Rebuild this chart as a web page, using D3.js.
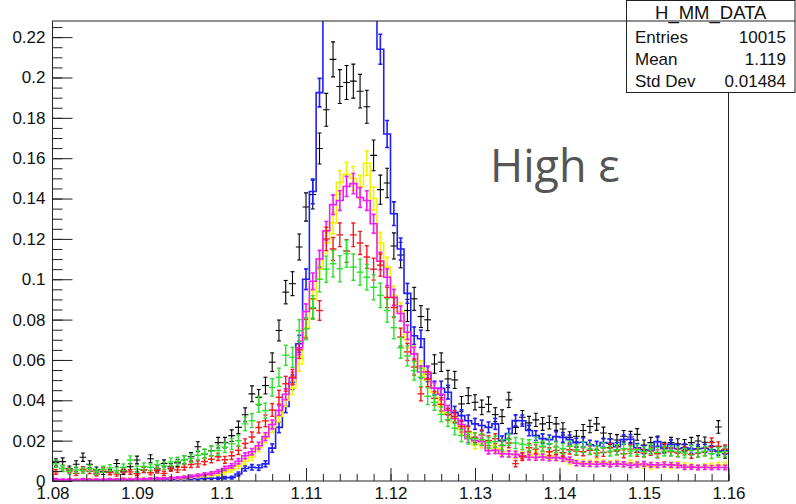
<!DOCTYPE html>
<html><head><meta charset="utf-8">
<script src="https://cdn.jsdelivr.net/npm/d3@7"></script>
<style>html,body{margin:0;padding:0;background:#fff;} svg{display:block;}</style>
</head><body>
<svg id="c" width="796" height="504"></svg>
<script>
// ---- binning / axis ranges ----
const xMin = 1.08, xMax = 1.16, binWidth = 0.0008;
const yMax = 0.228;
const xTickValues = [1.08, 1.09, 1.10, 1.11, 1.12, 1.13, 1.14, 1.15, 1.16];
const xTickLabels = ["1.08", "1.09", "1.1", "1.11", "1.12", "1.13", "1.14", "1.15", "1.16"];
const yTickValues = [0, 0.02, 0.04, 0.06, 0.08, 0.10, 0.12, 0.14, 0.16, 0.18, 0.20, 0.22];
const yTickLabels = ["0", "0.02", "0.04", "0.06", "0.08", "0.1", "0.12", "0.14", "0.16", "0.18", "0.2", "0.22"];

// ---- series (100 bins each) ----
const dataBlack = [0.0092,0.0096,0.006,0.0083,0.0118,0.0083,0.0055,0.0045,0.0045,0.0087,
0.0045,0.0071,0.0104,0.0055,0.011,0.006,0.0087,0.007,0.009,0.0106,
0.012,0.017,0.0134,0.015,0.019,0.019,0.0225,0.0266,0.0328,0.0432,
0.0415,0.0473,0.0589,0.0746,0.0936,0.0978,0.116,0.1358,0.142,0.1648,
0.184,0.209,0.1955,0.1975,0.1982,0.1932,0.1855,0.1614,0.1444,0.1477,
0.1165,0.112,0.0845,0.0903,0.0815,0.0799,0.058,0.0589,0.0506,0.0501,
0.0382,0.0423,0.039,0.0365,0.038,0.0329,0.0319,0.0402,0.0266,0.0316,
0.0288,0.0303,0.0283,0.029,0.0283,0.0258,0.0216,0.0222,0.025,0.027,
0.0283,0.0238,0.0208,0.0203,0.0222,0.0218,0.0231,0.0178,0.019,0.0196,
0.0167,0.019,0.0184,0.018,0.019,0.0198,0.0192,0.0172,0.0268,0.0135];

const histBlue = [0.0004,0.0003,0.0005,0.0004,0.0003,0.0005,0.0004,0.0006,0.0004,0.0005,
0.0006,0.0005,0.0007,0.0006,0.0008,0.0007,0.0009,0.0008,0.001,0.0011,
0.0012,0.0011,0.0013,0.0014,0.0014,0.0016,0.0017,0.0035,0.0062,0.0068,
0.0066,0.0085,0.0163,0.0266,0.037,0.049,0.068,0.1,0.1435,0.1925,
0.255,0.29,0.31,0.32,0.315,0.3,0.275,0.245,0.214,0.172,
0.1325,0.115,0.093,0.072,0.0705,0.053,0.046,0.046,0.044,0.034,
0.0324,0.0299,0.0283,0.0275,0.0266,0.0283,0.02,0.0235,0.03,0.0299,
0.025,0.0225,0.021,0.0205,0.022,0.0216,0.0205,0.019,0.0192,0.018,
0.0175,0.019,0.0187,0.017,0.0205,0.0207,0.0165,0.0155,0.0154,0.0195,
0.016,0.0182,0.016,0.0165,0.0158,0.016,0.0162,0.0155,0.0148,0.0152];

const histYellow = [0.0006,0.0005,0.0007,0.0006,0.0005,0.0008,0.0006,0.0007,0.0008,0.0007,
0.0009,0.001,0.0009,0.0011,0.001,0.0012,0.0013,0.0015,0.0014,0.0017,
0.0021,0.0024,0.0027,0.003,0.0036,0.0045,0.0055,0.0074,0.0098,0.0118,
0.0165,0.0212,0.0265,0.032,0.04,0.046,0.058,0.076,0.09,0.105,
0.118,0.128,0.148,0.152,0.15,0.1457,0.1575,0.14,0.118,0.106,
0.092,0.084,0.07,0.063,0.056,0.05,0.044,0.037,0.033,0.029,
0.0255,0.024,0.018,0.0185,0.0175,0.016,0.0145,0.0135,0.013,0.0128,
0.0125,0.0132,0.0122,0.0125,0.0118,0.0112,0.0098,0.009,0.0092,0.0088,
0.0094,0.009,0.0086,0.0088,0.0082,0.0089,0.0084,0.0076,0.0072,0.0078,
0.0081,0.0074,0.0082,0.0077,0.0073,0.0068,0.0072,0.0076,0.0078,0.0079];

const histMagenta = [0.0008,0.0006,0.0007,0.0005,0.0008,0.0006,0.0007,0.0006,0.0008,0.0007,
0.0009,0.0008,0.001,0.0009,0.0011,0.0012,0.0013,0.0015,0.0016,0.0019,
0.0023,0.0028,0.0033,0.0038,0.0047,0.0062,0.0075,0.0098,0.0125,0.0145,
0.0175,0.022,0.028,0.035,0.043,0.051,0.066,0.084,0.099,0.11,
0.124,0.137,0.139,0.146,0.1474,0.1405,0.139,0.1275,0.109,0.101,
0.091,0.083,0.0737,0.063,0.054,0.054,0.046,0.043,0.035,0.031,
0.028,0.021,0.02,0.0195,0.015,0.0152,0.0135,0.0134,0.0132,0.0125,
0.0118,0.0117,0.0119,0.0114,0.0116,0.0112,0.0105,0.0088,0.0085,0.0084,
0.0083,0.0086,0.0082,0.0085,0.0083,0.0078,0.0081,0.0084,0.008,0.0079,
0.0082,0.008,0.0078,0.0068,0.0069,0.0067,0.0068,0.0066,0.0068,0.0067];

const dataRed = [0.0045,0.0062,0.0052,0.0038,0.0058,0.0048,0.0035,0.0055,0.0042,0.0034,
0.0052,0.0045,0.0036,0.0056,0.0041,0.0052,0.0038,0.0061,0.0055,0.0068,
0.0082,0.0085,0.0097,0.0108,0.012,0.0105,0.0125,0.0152,0.0186,0.0218,
0.0265,0.0298,0.0352,0.0415,0.0482,0.0515,0.065,0.0755,0.0855,0.0845,
0.12,0.115,0.122,0.114,0.122,0.118,0.111,0.105,0.107,0.091,
0.086,0.0713,0.064,0.0565,0.0432,0.0505,0.041,0.038,0.033,0.032,
0.027,0.0245,0.0215,0.0228,0.02,0.021,0.0175,0.0188,0.0086,0.012,
0.0165,0.0158,0.017,0.0145,0.0152,0.014,0.0155,0.0148,0.0145,0.0152,
0.0138,0.0142,0.0165,0.015,0.0135,0.0158,0.0142,0.0138,0.0148,0.0135,
0.0165,0.0145,0.014,0.015,0.0132,0.0138,0.0145,0.019,0.0172,0.0158];

const dataGreen = [0.0085,0.0062,0.0048,0.0055,0.0052,0.0062,0.0045,0.0058,0.0065,0.0052,
0.0068,0.0104,0.0058,0.0072,0.0068,0.0082,0.0075,0.0095,0.0098,0.0105,
0.0112,0.0128,0.0135,0.0148,0.0152,0.0167,0.0184,0.02,0.0283,0.0299,
0.038,0.0349,0.0464,0.0514,0.0623,0.0613,0.0745,0.0755,0.086,0.1,
0.105,0.1077,0.1052,0.1127,0.106,0.1035,0.101,0.096,0.092,0.0845,
0.076,0.066,0.062,0.0547,0.0514,0.042,0.039,0.033,0.0305,0.0262,
0.0225,0.0212,0.021,0.0205,0.019,0.0195,0.0178,0.0205,0.0188,0.0182,
0.0178,0.019,0.0172,0.0185,0.0168,0.016,0.0172,0.0155,0.0168,0.0158,
0.0152,0.0165,0.0148,0.0155,0.016,0.0148,0.0155,0.0145,0.0158,0.0142,
0.0148,0.015,0.0145,0.0138,0.0152,0.0142,0.0148,0.0135,0.0142,0.0145];

const statsTitle = "H_MM_DATA";
const statsLabels = ["Entries", "Mean", "Std Dev"];
const statsValues = ["10015", "1.119", "0.01484"];
const annotation = "High \u03b5";

// ---- drawing ----
const svg = d3.select("#c");
const frame = {l: 52.5, r: 728.5, t: 21, b: 481};
const x = d3.scaleLinear().domain([xMin, xMax]).range([frame.l, frame.r]);
const y = d3.scaleLinear().domain([0, yMax]).range([frame.b, frame.t]);
const FONT = "'Liberation Sans', Arial, Helvetica, sans-serif";

svg.append("rect").attr("width", 796).attr("height", 504).attr("fill", "#fff");

svg.append("defs").append("clipPath").attr("id", "fr")
  .append("rect").attr("x", frame.l).attr("y", frame.t)
  .attr("width", frame.r - frame.l).attr("height", frame.b - frame.t);

const plot = svg.append("g").attr("clip-path", "url(#fr)");

const series = [
  {vals: dataBlack,   color: "#000000", step: false, err: 3.6e-4, w: 1.1},
  {vals: histBlue,    color: "#1f1ff5", step: true,  err: 2.6e-4, w: 1.6},
  {vals: histYellow,  color: "#f2f200", step: true,  err: 2.3e-4, w: 1.6},
  {vals: histMagenta, color: "#f01cf0", step: true,  err: 1.7e-4, w: 1.6},
  {vals: dataRed,     color: "#f01c1c", step: false, err: 2.8e-4, w: 1.4},
  {vals: dataGreen,   color: "#2ee02e", step: false, err: 4.0e-4, w: 1.4}
];

const lo = i => xMin + i * binWidth;
series.forEach(s => {
  const g = plot.append("g");
  if (s.step) {
    const pts = s.vals.map((v, i) => [x(lo(i)), y(v)]);
    pts.push([x(lo(s.vals.length)), y(s.vals[s.vals.length - 1])]);
    g.append("path").attr("d", d3.line().curve(d3.curveStepAfter)(pts))
      .attr("fill", "none").attr("stroke", s.color).attr("stroke-width", s.w);
  }
  s.vals.forEach((v, i) => {
    const e = Math.sqrt(v * s.err);
    const cx = x(lo(i) + binWidth / 2);
    const y1 = y(v - e), y2 = y(v + e);
    const gg = g.append("g").attr("stroke", s.color).attr("stroke-width", s.w).attr("fill", "none");
    gg.append("line").attr("x1", cx).attr("x2", cx).attr("y1", y1).attr("y2", y2);
    gg.append("line").attr("x1", cx - 2).attr("x2", cx + 2).attr("y1", y1).attr("y2", y1);
    gg.append("line").attr("x1", cx - 2).attr("x2", cx + 2).attr("y1", y2).attr("y2", y2);
    if (!s.step) {
      gg.append("line").attr("x1", x(lo(i))).attr("x2", x(lo(i + 1))).attr("y1", y(v)).attr("y2", y(v));
    }
  });
});

// frame
svg.append("rect").attr("x", frame.l).attr("y", frame.t)
  .attr("width", frame.r - frame.l).attr("height", frame.b - frame.t)
  .attr("fill", "none").attr("stroke", "#222").attr("stroke-width", 1);

// axes
const xMinor = d3.range(0, 41).map(i => xMin + i * 0.002);
const yMinor = d3.range(0, 46).map(i => i * 0.005);

const xAxisMinor = d3.axisBottom(x).tickValues(xMinor).tickSize(-7).tickFormat("");
const xAxisMajor = d3.axisBottom(x).tickValues(xTickValues).tickSize(-13).tickPadding(6)
  .tickFormat((d, i) => xTickLabels[i]);
const yAxisMinor = d3.axisLeft(y).tickValues(yMinor).tickSize(-10).tickFormat("");
const yAxisMajor = d3.axisLeft(y).tickValues(yTickValues).tickSize(-20).tickPadding(7)
  .tickFormat((d, i) => yTickLabels[i]);

function styleAxis(g) {
  g.select(".domain").remove();
  g.selectAll("line").attr("stroke", "#222");
  g.selectAll("text").attr("font-family", FONT).attr("font-size", 17).attr("fill", "#111");
}
svg.append("g").attr("transform", `translate(0,${frame.b})`).call(xAxisMinor).call(styleAxis);
svg.append("g").attr("transform", `translate(0,${frame.b})`).call(xAxisMajor).call(styleAxis);
svg.append("g").attr("transform", `translate(${frame.l},0)`).call(yAxisMinor).call(styleAxis);
svg.append("g").attr("transform", `translate(${frame.l},0)`).call(yAxisMajor).call(styleAxis);

// annotation
svg.append("text").attr("x", 490).attr("y", 182).text(annotation)
  .attr("font-family", "'Open Sans', 'Noto Sans', sans-serif").attr("font-size", 45)
  .attr("fill", "#555");

// stats box
const box = {x: 626.5, y: 0.5, w: 168.5, h: 92};
const sb = svg.append("g");
sb.append("rect").attr("x", box.x).attr("y", box.y).attr("width", box.w).attr("height", box.h)
  .attr("fill", "#fff").attr("stroke", "#222").attr("stroke-width", 1);
sb.append("line").attr("x1", box.x).attr("x2", box.x + box.w).attr("y1", frame.t).attr("y2", frame.t)
  .attr("stroke", "#222");
sb.append("text").attr("x", box.x + box.w / 2).attr("y", 19).attr("text-anchor", "middle")
  .attr("font-family", FONT).attr("font-size", 18.5).attr("fill", "#111").text(statsTitle);
statsLabels.forEach((l, i) => {
  const by = 43 + i * 21.8;
  sb.append("text").attr("x", 635).attr("y", by).attr("font-family", FONT).attr("font-size", 17)
    .attr("fill", "#111").text(l);
  sb.append("text").attr("x", 786).attr("y", by).attr("text-anchor", "end").attr("font-family", FONT)
    .attr("font-size", 17).attr("fill", "#111").text(statsValues[i]);
});
</script>
</body></html>
